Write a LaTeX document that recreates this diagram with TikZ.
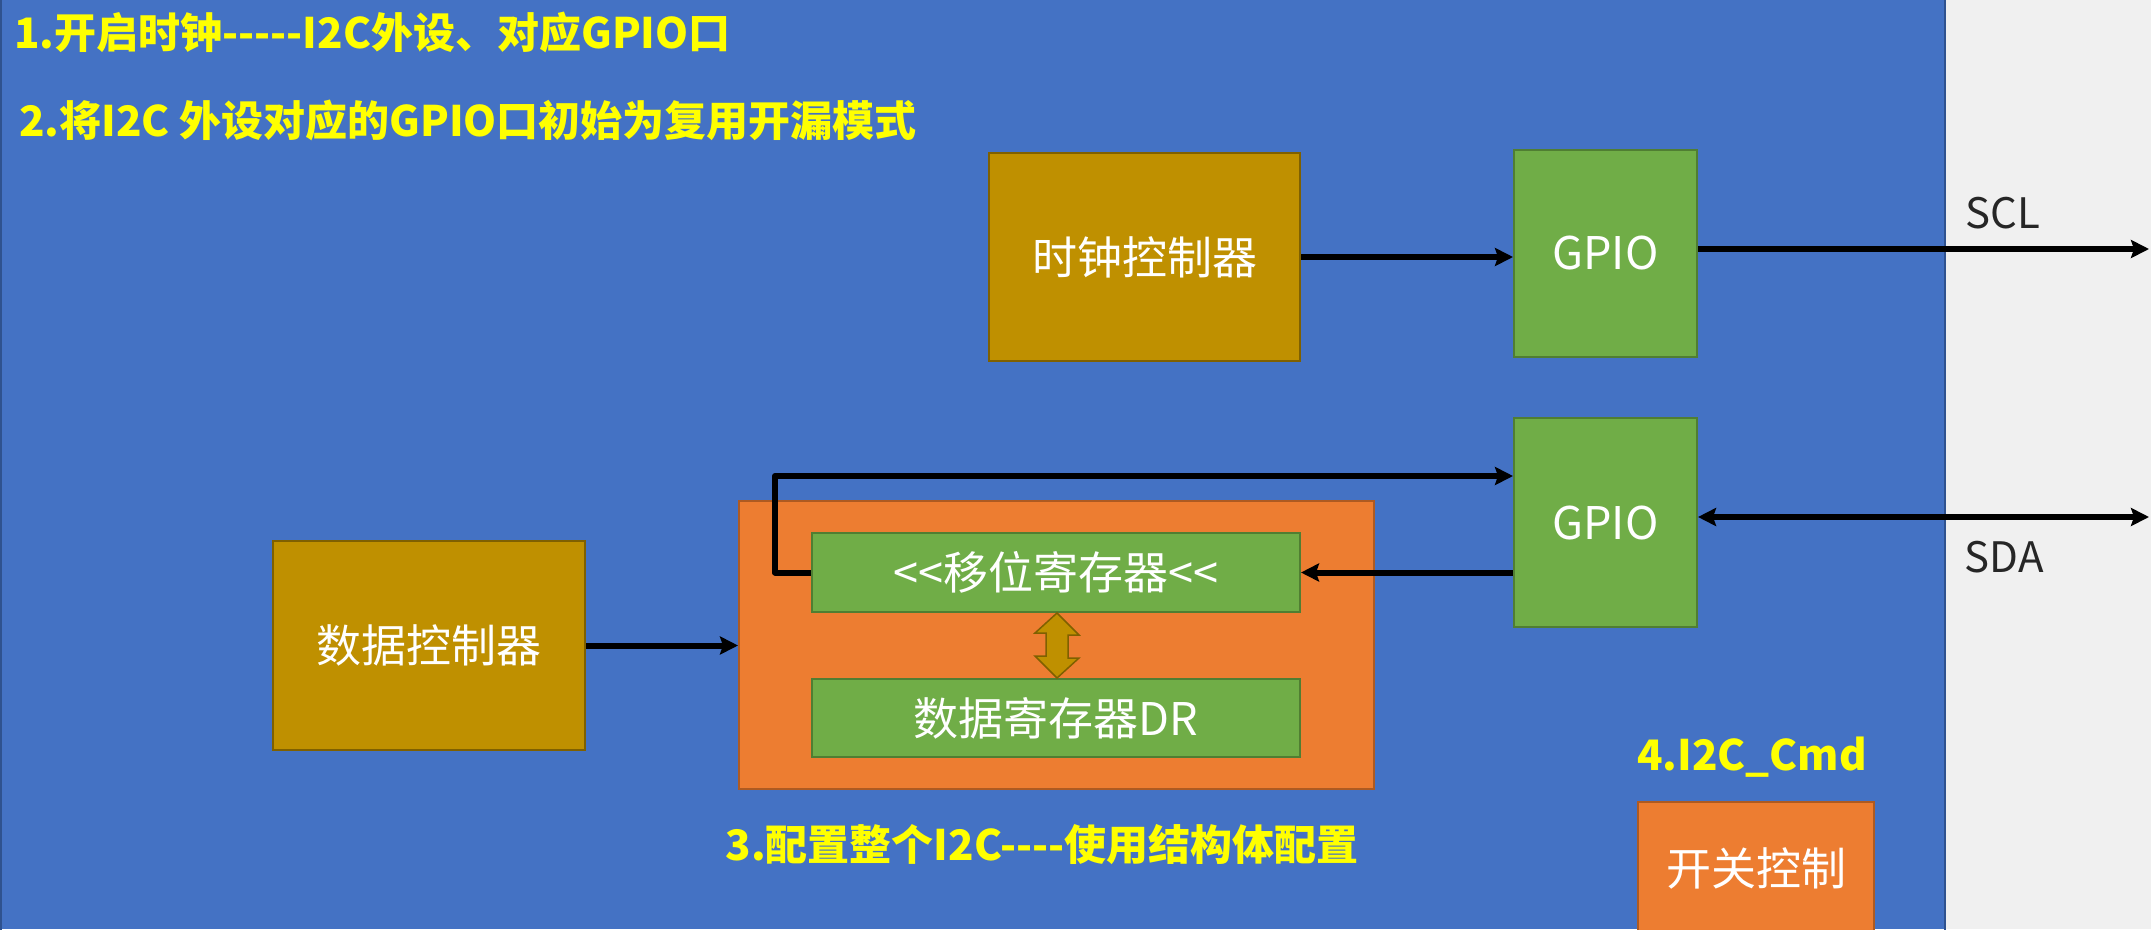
\documentclass[tikz,border=0pt]{standalone}
\usepackage{fontspec}
\newfontfamily\cjk{Noto Sans CJK SC}
\usetikzlibrary{arrows.meta,calc}
\definecolor{bgblue}{HTML}{4472C4}
\definecolor{bgblueedge}{HTML}{2F528F}
\definecolor{pagegray}{HTML}{F0F0F0}
\definecolor{gold}{HTML}{BF9000}
\definecolor{goldedge}{HTML}{7F6000}
\definecolor{grn}{HTML}{70AD47}
\definecolor{grnedge}{HTML}{507E32}
\definecolor{orng}{HTML}{ED7D31}
\definecolor{orngedge}{HTML}{AE5A21}
\definecolor{ylw}{HTML}{FFFF00}
\definecolor{dtext}{HTML}{262626}
\tikzset{
  boxbase/.style={draw, line width=2pt, inner sep=0pt, text=white, font=\cjk\fontsize{45}{50}\selectfont},
  goldbox/.style={boxbase, fill=gold, draw=goldedge},
  grnbox/.style={boxbase, fill=grn, draw=grnedge},
  orngbox/.style={boxbase, fill=orng, draw=orngedge},
  note/.style={inner sep=0pt, text=ylw, font=\cjk\fontsize{42}{48}\selectfont\bfseries},
  sig/.style={inner sep=0pt, text=dtext, font=\cjk\fontsize{42}{46}\selectfont},
  conn/.style={line width=6pt, draw=black, -{Stealth[length=18pt,width=18pt,inset=3pt]}},
  conn2/.style={line width=6pt, draw=black, {Stealth[length=18pt,width=18pt,inset=3pt]}-{Stealth[length=18pt,width=18pt,inset=3pt]}},
}
\begin{document}
\begin{tikzpicture}[x=1pt,y=-1pt]
\useasboundingbox (0,0) rectangle (2151,929);
\fill[pagegray] (0,0) rectangle (2151,929);
\begin{scope}
\clip (0,0) rectangle (2151,929);
\fill[bgblue] (0,0) rectangle (1945,929);
\draw[bgblueedge, line width=2pt] (1,-5) -- (1,935);
\draw[bgblueedge, line width=2pt] (1945,-5) -- (1945,935);

% nodes
\node[goldbox, minimum width=311pt, minimum height=208pt] (clk) at (1144.5,257) {时钟控制器};
\node[grnbox, minimum width=183pt, minimum height=207pt] (g1) at (1605.5,253.5) {GPIO};
\node[grnbox, minimum width=183pt, minimum height=209pt] (g2) at (1605.5,522.5) {GPIO};
\node[goldbox, minimum width=312pt, minimum height=209pt] (dat) at (429,645.5) {数据控制器};
\node[orngbox, minimum width=635pt, minimum height=288pt] (i2c) at (1056.5,645) {};
\node[grnbox, minimum width=488pt, minimum height=79pt] (sr) at (1056,572.5) {<<移位寄存器<<};
\node[grnbox, minimum width=488pt, minimum height=78pt] (dr) at (1056,718) {数据寄存器DR};
\node[orngbox, minimum width=236pt, minimum height=132pt] (sw) at (1756,868) {开关控制};

% fat double arrow between shift register and DR
\filldraw[fill=gold, draw=goldedge, line width=1.5pt]
  ($(sr.south)+(1,0)$) -- ++(22,22) -- ++(-11,0) -- ++(0,23) -- ++(11,0)
  -- ($(dr.north)+(1,0)$) -- ++(-22,-22) -- ++(11,0) -- ++(0,-23) -- ++(-11,0) -- cycle;

% texts
\node[note, anchor=west] (t1) at (14,32) {1.开启时钟-----I2C外设、对应GPIO口};
\node[note, anchor=west] (t2) at (19,120) {2.将I2C 外设对应的GPIO口初始为复用开漏模式};
\node[note] (t3) at (1042,845) {3.配置整个I2C----使用结构体配置};
\node[note] (t4) at (1752,757) {4.I2C\_Cmd};

% connectors
\coordinate (sclend) at (2149,249);
\coordinate (sdaend) at (2149,517);
\draw[conn] (clk.east) -- (clk.east -| g1.west);
\draw[conn] (g1.east |- sclend) -- (sclend);
\node[sig] (scl) at (2003,213) {SCL};
\draw[conn2] (g2.east |- sdaend) -- (sdaend);
\node[sig] (sda) at (2004,557) {SDA};
\draw[conn] (g2.west |- sr.east) -- (sr.east);
\draw[conn, line join=round]
  (sr.west) -- ++(-36,0) |- (g2.west |- 0,476);
\draw[conn] (dat.east) -- (i2c.west |- dat.east);
\end{scope}
\end{tikzpicture}
\end{document}
